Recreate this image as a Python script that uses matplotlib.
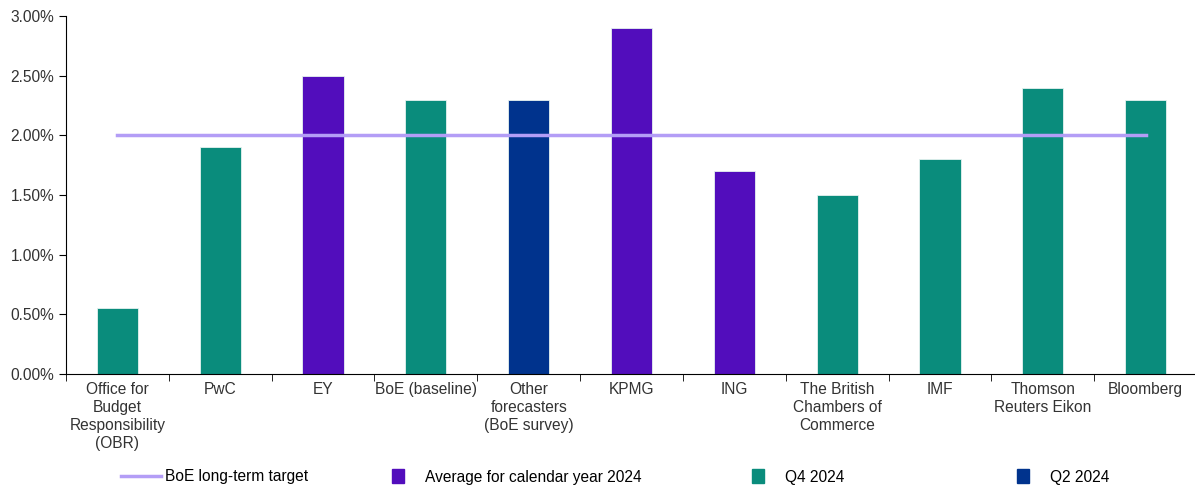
import matplotlib.pyplot as plt
import matplotlib.ticker as mticker
from matplotlib.lines import Line2D
from matplotlib.patches import Patch
import numpy as np

plt.rcParams['font.family'] = ['Liberation Sans', 'DejaVu Sans']
plt.rcParams['font.size'] = 11.2

# forecasters and their inflation forecasts (%)
categories = ['Office for\nBudget\nResponsibility\n(OBR)', 'PwC', 'EY', 'BoE (baseline)',
              'Other\nforecasters\n(BoE survey)', 'KPMG', 'ING', 'The British\nChambers of\nCommerce',
              'IMF', 'Thomson\nReuters Eikon', 'Bloomberg']
values = [0.55, 1.9, 2.5, 2.3, 2.3, 2.9, 1.7, 1.5, 1.8, 2.4, 2.3]
periods = ['Q4', 'Q4', 'Avg', 'Q4', 'Q2', 'Avg', 'Avg', 'Q4', 'Q4', 'Q4', 'Q4']
target = 2.0

colours = {'Avg': '#520DBC', 'Q4': '#0A8C7C', 'Q2': '#00338D'}
line_colour = '#B39DF6'

fig = plt.figure(figsize=(11.95, 4.88), dpi=100)
ax = fig.add_axes([66 / 1195, 114 / 488, 1131 / 1195, 358 / 488])

x = np.arange(len(categories))
ax.bar(x, values, width=0.4, color=[colours[p] for p in periods],
       edgecolor='#E6F2F0', linewidth=0.6, zorder=2)
ax.plot([x[0], x[-1]], [target, target], color=line_colour, linewidth=2.5, zorder=3)

ax.set_xlim(-0.5, len(categories) - 0.5)
ax.set_ylim(0, 3.0)
ax.yaxis.set_major_locator(mticker.MultipleLocator(0.5))
ax.yaxis.set_major_formatter(mticker.FuncFormatter(lambda v, p: f'{v:.2f}%'))

ax.set_xticks(x)
ax.set_xticklabels(categories, color='#333333', linespacing=1.25)
ax.tick_params(axis='x', which='major', length=0, pad=6)
ax.set_xticks(np.arange(len(categories) + 1) - 0.5, minor=True)
ax.tick_params(axis='x', which='minor', length=5, direction='out')
ax.tick_params(axis='y', length=5, colors='black', labelcolor='#333333')

for s in ['top', 'right']:
    ax.spines[s].set_visible(False)

# legend entries laid out along the bottom
entries = [
    (Line2D([0], [0], color=line_colour, linewidth=2.5), 'BoE long-term target', 121),
    (Patch(color=colours['Avg']), 'Average for calendar year 2024', 392),
    (Patch(color=colours['Q4']), 'Q4 2024', 752),
    (Patch(color=colours['Q2']), 'Q2 2024', 1017),
]
for handle, label, xpos in entries:
    if isinstance(handle, Line2D):
        kw = dict(handlelength=2.6, handletextpad=0.25)
    else:
        kw = dict(handlelength=0.75, handleheight=1.0, handletextpad=1.35)
    fig.legend([handle], [label], loc='center left', bbox_to_anchor=(xpos / 1195, 1 - 477 / 488),
               frameon=False, borderpad=0, borderaxespad=0, **kw)

fig.savefig('out.png', dpi=100)
